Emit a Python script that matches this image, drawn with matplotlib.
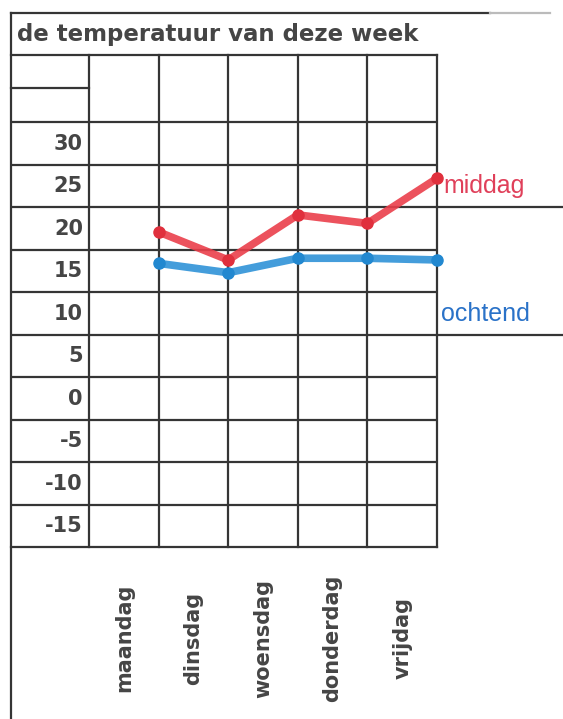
import matplotlib
matplotlib.use('Agg')
import matplotlib.pyplot as plt
import numpy as np

# ---------------- data ----------------
title = "de temperatuur van deze week"
days = ["maandag", "dinsdag", "woensdag", "donderdag", "vrijdag"]
y_ticks = [30, 25, 20, 15, 10, 5, 0, -5, -10, -15]
middag = [19.6, 16.3, 21.6, 20.6, 25.9]
ochtend = [15.9, 14.8, 16.5, 16.5, 16.3]
series_names = ["middag", "ochtend"]

# ---------------- layout ----------------
W, H = 563, 719
fig = plt.figure(figsize=(W / 100, H / 100), dpi=100)
ax = fig.add_axes([0, 0, 1, 1])

col_px = 69.6      # pixels per day column
x0_px = 89         # left edge of first day column
deg_px = 8.5       # pixels per degree
ytop_px = 143.5    # pixel row of the top tick value
top_val = max(y_ticks)

def vx(px):
    return (px - x0_px) / col_px

def vy(py):
    return top_val - (py - ytop_px) / deg_px

ax.set_xlim(vx(0), vx(W))
ax.set_ylim(vy(H), vy(0))
ax.axis('off')

n = len(days)
step = abs(y_ticks[0] - y_ticks[1])
grid_top = max(y_ticks) + step / 2
grid_bot = min(y_ticks) - step / 2
head_mid = vy(88)
head_top = vy(55)
frame_top = vy(13)
left = vx(11)

gc = '#353535'
glw = 1.6

# horizontal row lines
for t in y_ticks:
    ax.plot([left, n], [t + step / 2] * 2, color=gc, lw=glw, solid_capstyle='butt')
ax.plot([left, n], [grid_bot] * 2, color=gc, lw=glw)
ax.plot([left, n], [head_top] * 2, color=gc, lw=glw)
ax.plot([left, 0], [head_mid] * 2, color=gc, lw=glw)
# top frame line (fading to the right)
ax.plot([left, vx(490)], [frame_top] * 2, color=gc, lw=glw)
ax.plot([vx(490), vx(550)], [frame_top] * 2, color='#bbbbbb', lw=glw)
# lines extended to the right edge (below each series label)
for v in (22.5, 7.5):
    ax.plot([n, vx(W)], [v, v], color=gc, lw=glw)
# vertical column lines
for i in range(n + 1):
    ax.plot([i, i], [grid_bot, head_top], color=gc, lw=glw)
ax.plot([left, left], [frame_top, vy(H)], color=gc, lw=glw)

# text
txt_c = '#454545'
ax.text(vx(17), vy(34), title, fontsize=16.5, color=txt_c, ha='left', va='center',
        family='DejaVu Sans', fontweight='bold')
for t in y_ticks:
    ax.text(vx(83), t, str(t), fontsize=15, color=txt_c, ha='right', va='center',
            family='DejaVu Sans', fontweight='bold')
for i, d in enumerate(days):
    ax.text(i + 0.5, vy(638), d, fontsize=15, color=txt_c, rotation=90,
            ha='center', va='center', family='DejaVu Sans', fontweight='bold')

# data lines (plotted on the right edge of each day column)
xs = np.arange(1, n + 1)
red = '#ea3f4b'
blue = '#2f93d8'
ax.plot(xs, middag, color=red, lw=5.5, alpha=0.9, solid_capstyle='round',
        solid_joinstyle='round', zorder=5)
ax.plot(xs, middag, 'o', color='#e0303d', ms=8, zorder=6)
ax.plot(xs, ochtend, color=blue, lw=5.5, alpha=0.9, solid_capstyle='round',
        solid_joinstyle='round', zorder=5)
ax.plot(xs, ochtend, 'o', color='#2288d0', ms=8, zorder=6)

ax.text(vx(443), 25, series_names[0], fontsize=18, color='#e0405a', ha='left',
        va='center', family='Liberation Sans')
ax.text(vx(441), 10, series_names[1], fontsize=18, color='#2a72c8', ha='left',
        va='center', family='Liberation Sans')

fig.savefig('out.png', dpi=100)
